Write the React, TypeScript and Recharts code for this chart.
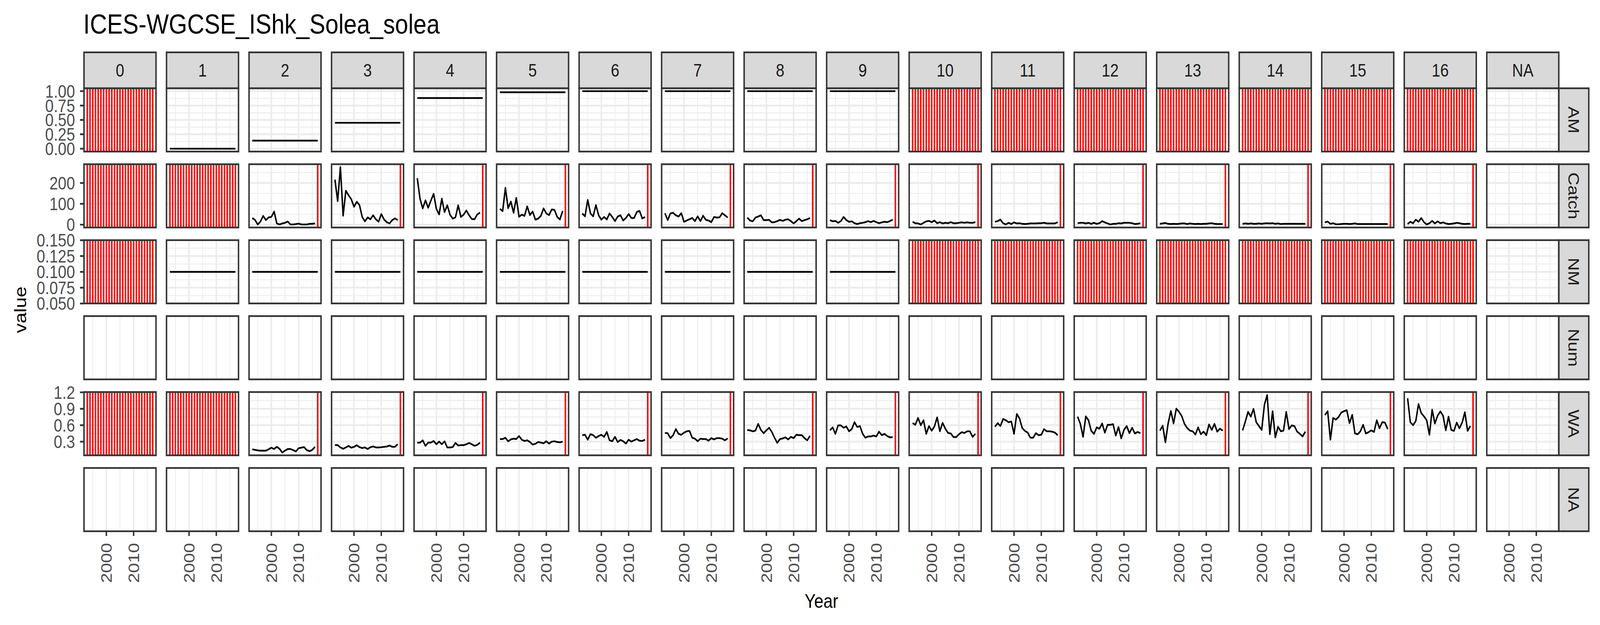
import React from 'react'
import { LineChart, Line, XAxis, YAxis, CartesianGrid, ReferenceLine } from 'recharts'

const FONT = '"Liberation Sans", Arial, Helvetica, sans-serif'

// ---- data ----------------------------------------------------------------
const YEARS = [
  1993, 1994, 1995, 1996, 1997, 1998, 1999, 2000, 2001, 2002, 2003, 2004, 2005,
  2006, 2007, 2008, 2009, 2010, 2011, 2012, 2013, 2014, 2015, 2016, 2017,
]
const AGES = ['0', '1', '2', '3', '4', '5', '6', '7', '8', '9', '10', '11', '12', '13', '14', '15', '16', 'NA']
const VARIABLES = ['AM', 'Catch', 'NM', 'Num', 'WA', 'NA']

const X_TICKS = [2000, 2010]
const X_MINOR = [1995, 2005, 2015]

const AM_TICKS = [0, 0.25, 0.5, 0.75, 1]
const AM_MINOR = [0.125, 0.375, 0.625, 0.875]
const CATCH_TICKS = [0, 100, 200]
const CATCH_MINOR = [50, 150, 250]
const NM_TICKS = [0.05, 0.075, 0.1, 0.125, 0.15]
const NM_MINOR = [0.0625, 0.0875, 0.1125, 0.1375]
const WA_TICKS = [0.3, 0.6, 0.9, 1.2]
const WA_MINOR = [0.15, 0.45, 0.75, 1.05]

// maturity and natural mortality, one level per age (null = all years missing)
const AM_LEVELS = [null, 0, 0.14, 0.45, 0.88, 0.98, 1, 1, 1, 1, null, null, null, null, null, null, null]
const NM_LEVELS = [null, 0.1, 0.1, 0.1, 0.1, 0.1, 0.1, 0.1, 0.1, 0.1, null, null, null, null, null, null, null]

// catch numbers 1993-2016 by age
const catch2 = [32, 23, 1, 15, 42, 22, 35, 37, 63, 6, 1, 6, 9, 15, 1, 1, 3, 5, 1, 1, 1, 4, 4, 6]
const catch3 = [216, 113, 277, 43, 163, 141, 122, 86, 110, 94, 37, 16, 35, 26, 45, 26, 14, 51, 25, 12, 6, 22, 30, 22]
const catch4 = [223, 125, 78, 117, 81, 116, 148, 76, 49, 125, 60, 93, 48, 29, 35, 93, 37, 48, 68, 45, 27, 26, 49, 58]
const catch5 = [76, 65, 177, 79, 111, 57, 129, 38, 48, 42, 88, 46, 63, 24, 29, 42, 78, 54, 46, 73, 71, 37, 25, 66]
const catch6 = [54, 40, 119, 54, 40, 94, 45, 24, 37, 25, 54, 37, 17, 39, 45, 20, 32, 51, 32, 32, 61, 66, 30, 37]
const catch7 = [55, 22, 54, 57, 45, 39, 55, 14, 20, 26, 32, 17, 40, 17, 43, 23, 20, 12, 37, 34, 35, 55, 45, 34]
const catch8 = [34, 20, 16, 34, 39, 45, 22, 22, 23, 11, 12, 17, 23, 18, 24, 26, 17, 6, 17, 29, 17, 22, 26, 32]
const catch9 = [22, 16, 18, 9, 17, 37, 22, 14, 16, 7, 3, 7, 9, 12, 17, 12, 18, 12, 7, 11, 14, 12, 17, 24]
const catch10 = [14, 7, 6, 1, 9, 16, 18, 12, 20, 7, 12, 6, 9, 7, 12, 7, 7, 9, 11, 9, 11, 9, 9, 12]
const catch11 = [14, 17, 24, 7, 1, 9, 3, 11, 6, 7, 4, 3, 4, 6, 6, 6, 7, 7, 9, 6, 6, 6, 6, 12]
const catch12 = [7, 9, 9, 6, 9, 4, 9, 4, 7, 17, 11, 6, 1, 4, 4, 7, 6, 9, 9, 9, 7, 3, 4, 7]
const catch13 = [4, 6, 8, 4, 3, 4, 3, 4, 6, 6, 3, 6, 4, 3, 4, 3, 4, 4, 6, 7, 4, 3, 3, 3]
const catch14 = [4, 6, 4, 6, 4, 4, 6, 4, 6, 7, 6, 7, 4, 6, 3, 4, 4, 4, 4, 4, 4, 4, 4, 4]
const catch15 = [11, 15, 4, 7, 2, 2, 3, 4, 4, 3, 4, 6, 3, 3, 3, 3, 3, 3, 3, 3, 3, 3, 3, 3]
const catch16 = [3, 14, 7, 24, 14, 32, 12, 1, 7, 18, 6, 16, 7, 11, 6, 3, 4, 6, 9, 7, 4, 3, 4, 4]

// mean weight at age 1993-2016
const wa2 = [0.16, 0.15, 0.14, 0.135, 0.135, 0.135, 0.16, 0.19, 0.165, 0.205, 0.17, 0.1, 0.135, 0.165, 0.165, 0.145, 0.12, 0.18, 0.19, 0.2, 0.145, 0.125, 0.15, 0.205]
const wa3 = [0.236, 0.236, 0.194, 0.17, 0.194, 0.222, 0.189, 0.205, 0.234, 0.2, 0.182, 0.194, 0.165, 0.198, 0.213, 0.194, 0.194, 0.198, 0.205, 0.21, 0.229, 0.205, 0.205, 0.253]
const wa4 = [0.281, 0.281, 0.324, 0.222, 0.283, 0.283, 0.312, 0.253, 0.3, 0.253, 0.305, 0.194, 0.194, 0.2, 0.276, 0.229, 0.236, 0.236, 0.253, 0.276, 0.253, 0.224, 0.241, 0.281]
const wa5 = [0.347, 0.347, 0.371, 0.305, 0.34, 0.354, 0.347, 0.402, 0.335, 0.312, 0.324, 0.293, 0.246, 0.26, 0.293, 0.283, 0.269, 0.307, 0.265, 0.3, 0.307, 0.293, 0.288, 0.3]
const wa6 = [0.418, 0.425, 0.335, 0.437, 0.418, 0.371, 0.402, 0.425, 0.387, 0.477, 0.324, 0.307, 0.387, 0.293, 0.331, 0.307, 0.265, 0.335, 0.3, 0.324, 0.347, 0.317, 0.312, 0.335]
const wa7 = [0.458, 0.454, 0.364, 0.418, 0.529, 0.442, 0.425, 0.465, 0.489, 0.496, 0.371, 0.354, 0.307, 0.354, 0.347, 0.347, 0.317, 0.364, 0.34, 0.364, 0.364, 0.354, 0.324, 0.359]
const wa8 = [0.513, 0.506, 0.489, 0.501, 0.624, 0.513, 0.454, 0.506, 0.553, 0.477, 0.371, 0.276, 0.347, 0.359, 0.378, 0.34, 0.387, 0.364, 0.425, 0.418, 0.418, 0.364, 0.324, 0.406]
const wa9 = [0.506, 0.56, 0.442, 0.596, 0.596, 0.553, 0.577, 0.489, 0.529, 0.655, 0.567, 0.584, 0.442, 0.371, 0.395, 0.395, 0.411, 0.395, 0.482, 0.418, 0.442, 0.402, 0.378, 0.383]
const wa10 = [0.638, 0.607, 0.733, 0.6, 0.69, 0.442, 0.584, 0.501, 0.577, 0.742, 0.489, 0.643, 0.536, 0.458, 0.449, 0.383, 0.383, 0.435, 0.473, 0.458, 0.489, 0.489, 0.387, 0.442]
const wa11 = [0.572, 0.638, 0.584, 0.714, 0.69, 0.655, 0.667, 0.442, 0.804, 0.726, 0.548, 0.496, 0.465, 0.371, 0.371, 0.454, 0.418, 0.425, 0.529, 0.489, 0.489, 0.482, 0.465, 0.418]
const wa12 = [0.756, 0.624, 0.387, 0.761, 0.69, 0.496, 0.442, 0.56, 0.536, 0.631, 0.465, 0.607, 0.607, 0.619, 0.411, 0.567, 0.359, 0.513, 0.584, 0.454, 0.553, 0.449, 0.477, 0.454]
const wa13 = [0.501, 0.591, 0.288, 0.631, 0.86, 0.631, 0.903, 0.844, 0.766, 0.624, 0.548, 0.501, 0.489, 0.43, 0.56, 0.435, 0.482, 0.418, 0.614, 0.513, 0.624, 0.482, 0.536, 0.501]
const wa14 = [0.506, 0.666, 0.844, 0.756, 0.898, 0.655, 0.584, 0.513, 0.974, 1.15, 0.435, 0.856, 0.378, 0.572, 0.489, 0.501, 0.844, 0.529, 0.596, 0.584, 0.482, 0.442, 0.395, 0.482]
const wa15 = [0.785, 0.856, 0.335, 0.733, 0.702, 0.749, 0.832, 0.856, 0.874, 0.638, 0.789, 0.449, 0.435, 0.489, 0.607, 0.449, 0.473, 0.506, 0.477, 0.69, 0.543, 0.655, 0.648, 0.529]
const wa16 = [1.092, 0.655, 0.6, 0.678, 0.986, 0.82, 0.761, 0.69, 0.425, 0.884, 0.631, 0.773, 0.851, 0.773, 0.506, 0.756, 0.513, 0.496, 0.648, 0.543, 0.648, 0.837, 0.496, 0.584]

const CATCH_BY_AGE = [null, null, catch2, catch3, catch4, catch5, catch6, catch7, catch8, catch9, catch10, catch11, catch12, catch13, catch14, catch15, catch16]
const WA_BY_AGE = [null, null, wa2, wa3, wa4, wa5, wa6, wa7, wa8, wa9, wa10, wa11, wa12, wa13, wa14, wa15, wa16]

// ---- layout (in a 4800 x 1600 design space) ----------------------------
const DESIGN_W = 4800
const DESIGN_H = 1600
const PANEL_W = 216
const PANEL_H = 162
const COL_X0 = 252
const COL_STEP = 247.55
const ROW_Y0 = 226
const ROW_STEP = 194.4
const Y_AXIS_W = 200
const Y_PAD = 40 // room so end tick labels are not clipped
const X_AXIS_H = 150
const STRIP_TOP = 134
const STRIP_W = 90
const LINE_W = 4.4
const BORDER = '#333333'
const GRID = '#EBEBEB'

const colLeft = (c: number) => COL_X0 + c * COL_STEP
const rowTop = (r: number) => ROW_Y0 + r * ROW_STEP
const panelsRight = colLeft(AGES.length - 1) + PANEL_W

// ggplot-like 5% expansion of a data range
const expand = (lo: number, hi: number): [number, number] => [lo - 0.05 * (hi - lo), hi + 0.05 * (hi - lo)]
const rangeOf = (lists: (number[] | null)[]) => {
  const all = lists.filter(Boolean).flat() as number[]
  return expand(Math.min(...all), Math.max(...all))
}

const X_DOMAIN = expand(YEARS[0], YEARS[YEARS.length - 1])

type Cell = { kind: 'series'; values: (number | null)[]; lastMissing: boolean } | { kind: 'missing' } | { kind: 'empty' }

interface RowCfg {
  ticks: number[]
  minor: number[]
  domain: [number, number]
  fmt: (v: number) => string
  cell: (age: number) => Cell
}

const levelCell = (levels: (number | null)[]) => (age: number): Cell => {
  if (age >= levels.length) return { kind: 'empty' }
  const lv = levels[age]
  if (lv === null) return { kind: 'missing' }
  return { kind: 'series', values: YEARS.map(() => lv), lastMissing: false }
}
const seriesCell = (byAge: (number[] | null)[]) => (age: number): Cell => {
  if (age >= byAge.length) return { kind: 'empty' }
  const s = byAge[age]
  if (!s) return { kind: 'missing' }
  return { kind: 'series', values: YEARS.map((_, i) => (i < s.length ? s[i] : null)), lastMissing: true }
}
const emptyCell = (): Cell => ({ kind: 'empty' })

const ROWS: RowCfg[] = [
  {
    ticks: AM_TICKS, minor: AM_MINOR,
    domain: expand(0, 1),
    fmt: (v) => v.toFixed(2), cell: levelCell(AM_LEVELS),
  },
  {
    ticks: CATCH_TICKS, minor: CATCH_MINOR,
    domain: rangeOf(CATCH_BY_AGE),
    fmt: (v) => String(v), cell: seriesCell(CATCH_BY_AGE),
  },
  {
    ticks: NM_TICKS, minor: NM_MINOR,
    domain: [0.05, 0.15],
    fmt: (v) => v.toFixed(3), cell: levelCell(NM_LEVELS),
  },
  { ticks: [], minor: [], domain: [0, 1], fmt: String, cell: emptyCell },
  {
    ticks: WA_TICKS, minor: WA_MINOR,
    domain: rangeOf(WA_BY_AGE),
    fmt: (v) => v.toFixed(1), cell: seriesCell(WA_BY_AGE),
  },
  { ticks: [], minor: [], domain: [0, 1], fmt: String, cell: emptyCell },
]

function YearTick(props: any) {
  const { x, y, payload } = props
  return (
    <text
      x={x}
      y={y}
      transform={`rotate(-90 ${x} ${y})`}
      textAnchor="end"
      dy="0.355em"
      fontSize={46}
      fill="#4D4D4D"
      fontFamily={FONT}
    >
      {payload.value}
    </text>
  )
}

function Panel({ row, col }: { row: number; col: number }) {
  const cfg = ROWS[row]
  const cell = cfg.cell(col)
  const hasYLabels = cfg.ticks.length > 0
  const showY = col === 0 && hasYLabels
  const showX = row === ROWS.length - 1
  const padY = showY ? Y_PAD : 0
  const w = PANEL_W + (showY ? Y_AXIS_W : 0)
  const h = PANEL_H + (showX ? X_AXIS_H : 0) + 2 * padY
  const data = YEARS.map((year, i) => ({ year, value: cell.kind === 'series' ? cell.values[i] : null }))

  const redYears = cell.kind === 'missing' ? YEARS : cell.kind === 'series' && cell.lastMissing ? [YEARS[YEARS.length - 1]] : []

  return (
    <div
      style={{
        position: 'absolute',
        left: colLeft(col) - (showY ? Y_AXIS_W : 0),
        top: rowTop(row) - padY,
        width: w,
        height: h,
      }}
    >
      <LineChart width={w} height={h} data={data} margin={{ top: padY, right: 0, bottom: padY, left: 0 }}>
        <CartesianGrid
          stroke={GRID}
          strokeWidth={LINE_W / 2}
          horizontal={hasYLabels}
          verticalValues={X_MINOR}
          horizontalValues={cfg.minor}
        />
        <CartesianGrid stroke={GRID} strokeWidth={LINE_W} horizontal={hasYLabels} />
        <XAxis
          type="number"
          dataKey="year"
          domain={X_DOMAIN}
          ticks={X_TICKS}
          allowDataOverflow
          hide={!showX}
          height={X_AXIS_H}
          interval={0}
          tickSize={12}
          tickMargin={18}
          axisLine={false}
          tickLine={{ stroke: BORDER, strokeWidth: LINE_W }}
          tick={<YearTick />}
        />
        <YAxis
          type="number"
          domain={cfg.domain}
          ticks={cfg.ticks}
          allowDataOverflow
          hide={!showY}
          width={Y_AXIS_W}
          interval={0}
          tickSize={12}
          tickMargin={15}
          axisLine={false}
          tickLine={{ stroke: BORDER, strokeWidth: LINE_W }}
          tick={{ fontSize: 46, fill: '#4D4D4D', fontFamily: FONT }}
          tickFormatter={cfg.fmt}
        />
        {redYears.map((yr) => (
          <ReferenceLine key={yr} x={yr} stroke="#FF0000" strokeWidth={4.6} />
        ))}
        {cell.kind === 'series' && (
          <Line
            type="linear"
            dataKey="value"
            stroke="#000000"
            strokeWidth={LINE_W}
            strokeLinejoin="round"
            dot={false}
            activeDot={false}
            connectNulls={false}
            isAnimationActive={false}
          />
        )}
      </LineChart>
    </div>
  )
}

function Overlay() {
  const stripH = ROW_Y0 - STRIP_TOP
  const midY = rowTop(0) + (rowTop(VARIABLES.length - 1) + PANEL_H - rowTop(0)) / 2
  return (
    <svg
      width={DESIGN_W}
      height={DESIGN_H}
      style={{ position: 'absolute', left: 0, top: 0, pointerEvents: 'none', zIndex: 2 }}
      fontFamily={FONT}
    >
      <text x={250} y={86} fontSize={71} fill="#000000">ICES-WGCSE_IShk_Solea_solea</text>

      {/* column strips */}
      {AGES.map((age, c) => (
        <g key={`cs${c}`}>
          <rect x={colLeft(c)} y={STRIP_TOP} width={PANEL_W} height={stripH} fill="#D9D9D9" stroke={BORDER} strokeWidth={LINE_W} />
          <text x={colLeft(c) + PANEL_W / 2} y={STRIP_TOP + stripH / 2} dy="0.355em" textAnchor="middle" fontSize={46} fill="#1A1A1A">
            {age}
          </text>
        </g>
      ))}

      {/* row strips */}
      {VARIABLES.map((v, r) => {
        const cx = panelsRight + STRIP_W / 2
        const cy = rowTop(r) + PANEL_H / 2
        return (
          <g key={`rs${r}`}>
            <rect x={panelsRight} y={rowTop(r)} width={STRIP_W} height={PANEL_H} fill="#D9D9D9" stroke={BORDER} strokeWidth={LINE_W} />
            <text x={cx} y={cy} dy="0.355em" textAnchor="middle" fontSize={46} fill="#1A1A1A" transform={`rotate(90 ${cx} ${cy})`}>
              {v}
            </text>
          </g>
        )
      })}

      {/* panel borders */}
      {VARIABLES.map((_, r) =>
        AGES.map((__, c) => (
          <rect key={`b${r}-${c}`} x={colLeft(c)} y={rowTop(r)} width={PANEL_W} height={PANEL_H} fill="none" stroke={BORDER} strokeWidth={LINE_W} />
        )),
      )}

      <text x={79} y={midY} fontSize={50} textAnchor="middle" fill="#000000" transform={`rotate(-90 79 ${midY})`}>
        value
      </text>
      <text x={(COL_X0 + panelsRight) / 2} y={1556} fontSize={50} textAnchor="middle" fill="#000000">
        Year
      </text>
    </svg>
  )
}

export default function App() {
  // the page's CSS viewport may not be 4800x1600: fill it with the design
  const vw = typeof window !== 'undefined' && window.innerWidth > 0 ? window.innerWidth : DESIGN_W
  const vh = typeof window !== 'undefined' && window.innerHeight > 0 ? window.innerHeight : DESIGN_H
  const sx = vw / DESIGN_W
  const sy = vh / DESIGN_H
  return (
    <div style={{ position: 'absolute', left: 0, top: 0, width: vw, height: vh, overflow: 'hidden', background: '#FFFFFF' }}>
      <div
        style={{
          position: 'absolute',
          left: 0,
          top: 0,
          width: DESIGN_W,
          height: DESIGN_H,
          fontFamily: FONT,
          transform: `scale(${sx}, ${sy})`,
          transformOrigin: '0 0',
        }}
      >
        {VARIABLES.map((_, r) => AGES.map((__, c) => <Panel key={`${r}-${c}`} row={r} col={c} />))}
        <Overlay />
      </div>
    </div>
  )
}
